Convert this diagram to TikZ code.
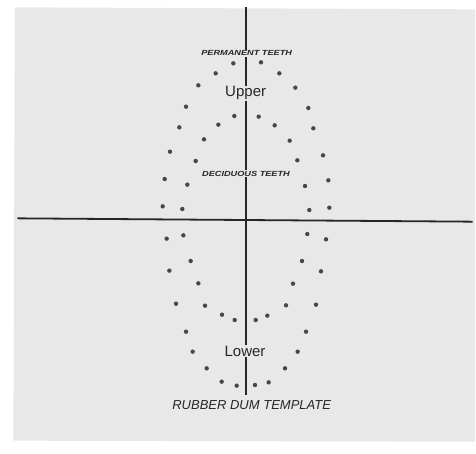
\documentclass[tikz,border=0pt]{standalone}
\usepackage{fontspec}
\setmainfont{Liberation Sans}
\begin{document}
\begin{tikzpicture}[x=0.33333pt,y=-0.33333pt,
  tooth/.style={fill=black!72},
  axis/.style={line width=1.8pt,black!85},
  lbl/.style={fill=card,inner sep=1pt,text=black!85},
  small/.style={lbl,font=\fontsize{7.4}{8}\selectfont\bfseries\itshape},
  big/.style={lbl,font=\fontsize{15}{16}\selectfont},
  title/.style={lbl,font=\fontsize{13}{14}\selectfont\itshape}]
\definecolor{card}{HTML}{E8E8E8}
\useasboundingbox (0,0) rectangle (1428,1359);
\fill[white] (0,0) rectangle (1428,1359);
\fill[card] (45,22) -- (1425,28) -- (1425,1325) -- (40,1322) -- cycle;
% axes
\coordinate (vt) at (737,22);
\coordinate (vb) at (737,1185);
\coordinate (hl) at (52,655);
\coordinate (hr) at (1418,665);
\draw[axis] (vt) -- (vb);
\draw[axis] (hl) -- (hr);
% teeth
\foreach \x/\y in {700/190,783/187,647/220,838/220,595/256,886/263,558/320,925/324,538/382,940/385,510/455,969/466,494/537,985/541,488/619,988/623,
703/348,776/350,655/374,824/376,612/418,869/422,587/483,892/481,562/554,915/558,547/627,928/630,
500/716,978/718,508/812,963/814,528/911,948/914,558/995,918/995,578/1055,893/1055,620/1105,855/1105,665/1145,710/1157,765/1155,806/1147,
550/706,922/702,572/783,906/783,595/850,879/851,615/917,858/916,666/944,704/960,767/960,802/947}
  \fill[tooth] (\x,\y) circle (2.2pt);
% labels
\node[small] (perm) at (740,160) {\scalebox{1.24}[1]{PERMANENT TEETH}};
\node[big] (up) at (737,280) {Upper};
\node[small] (dec) at (738,521) {\scalebox{1.24}[1]{DECIDUOUS TEETH}};
\node[big] (low) at (735,1053) {Lower};
\node[title,fill=none] (tpl) at (755,1215) {RUBBER DUM TEMPLATE};
\end{tikzpicture}
\end{document}
